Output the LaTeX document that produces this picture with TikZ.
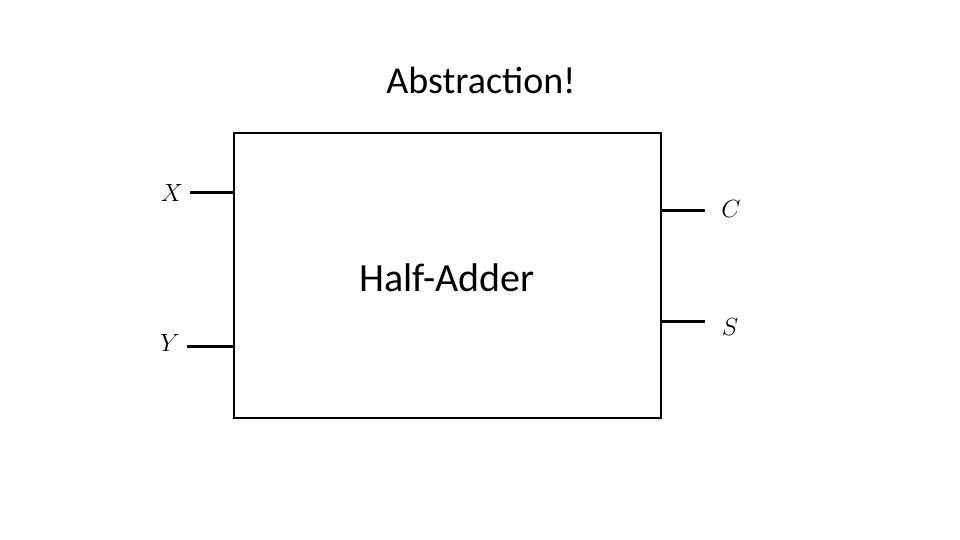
\documentclass[tikz,border=0pt]{standalone}
\usepackage{fontspec}
\setmainfont{Carlito}
\begin{document}
\begin{tikzpicture}[x=1pt,y=-1pt,
  wire/.style={line width=3pt},
  lbl/.style={font=\fontsize{28}{30}\selectfont}]
\useasboundingbox (0,0) rectangle (960,540);
\node (title) at (481,80) {\fontsize{38}{40}\selectfont Abstraction!};
\node[draw,line width=2.5pt,minimum width=427pt,minimum height=285pt,inner sep=0pt] (box) at (447.5,275.5) {};
\node (ha) at (447,278) {\fontsize{40}{42}\selectfont Half-Adder};
\coordinate (xin) at (190,192);
\coordinate (yin) at (187,346);
\coordinate (cout) at (705,210);
\coordinate (sout) at (705,321);
\draw[wire] (xin) -- (box.west |- xin);
\draw[wire] (yin) -- (box.west |- yin);
\draw[wire] (box.east |- cout) -- (cout);
\draw[wire] (box.east |- sout) -- (sout);
\node[lbl] (xl) at (172,193) {$X$};
\node[lbl] (yl) at (170,343) {$Y$};
\node[lbl] (cl) at (731,209) {$C$};
\node[lbl] (sl) at (730,327) {$S$};
\end{tikzpicture}
\end{document}
